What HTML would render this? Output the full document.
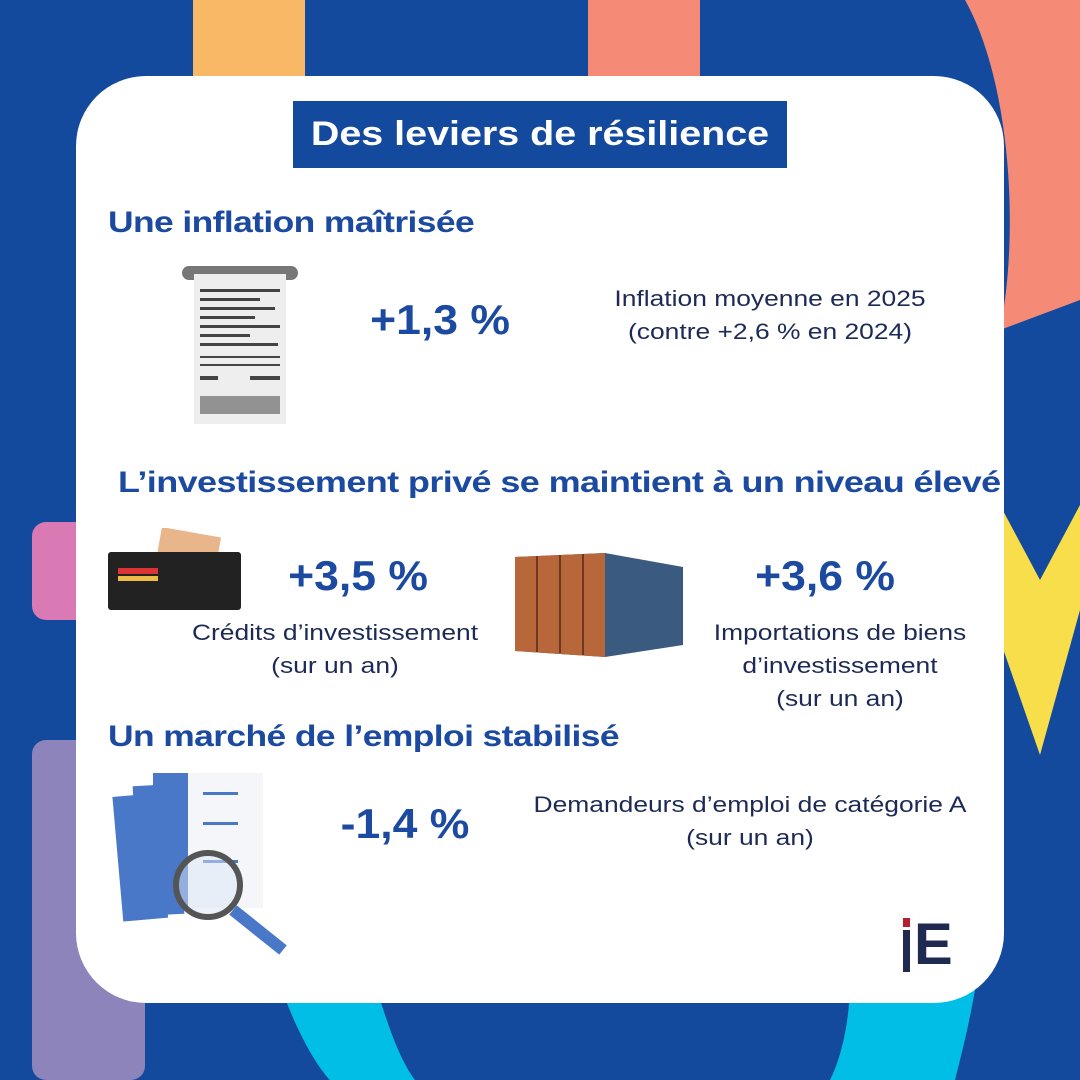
<!DOCTYPE html>
<html><head><meta charset="utf-8"><style>
body{margin:0;width:1080px;height:1080px;overflow:hidden;background:#144A9E;position:relative;font-family:"Liberation Sans",sans-serif}
.a{position:absolute}
.h{color:#1B4AA0;font-weight:bold;font-size:30px;letter-spacing:-0.5px;transform:scaleX(1.18);transform-origin:left center;white-space:nowrap}
.n{color:#1B4AA0;font-weight:bold;font-size:42px;text-align:center;transform:scaleX(1.06)}
.t{color:#1c2a55;font-size:22px;text-align:center;line-height:33px;transform:scaleX(1.2);white-space:nowrap}
</style></head><body>
<svg class="a" style="left:0;top:0" width="1080" height="1080">
<rect x="193" y="0" width="112" height="80" fill="#F9B865"/>
<rect x="588" y="0" width="112" height="80" fill="#F58A77"/>
<path d="M965 0 C1010 80 1020 230 1000 330 L1080 300 L1080 0 Z" fill="#F58A77"/>
<path d="M1000 505 L1040 580 L1080 505 L1080 610 L1040 755 L1000 640 Z" fill="#F9DE4C"/>
<rect x="32" y="522" width="60" height="98" rx="14" fill="#D97AB5"/>
<rect x="32" y="740" width="113" height="340" rx="14" fill="#8C84BB"/>
<path d="M282 990 C300 1040 320 1070 330 1080 L415 1080 C400 1060 390 1030 380 1000 Z" fill="#00BEE6"/>
<path d="M850 990 L975 990 C968 1030 960 1060 955 1080 L830 1080 C840 1060 848 1030 850 990 Z" fill="#00BEE6"/>
</svg>
<div class="a" style="left:76px;top:76px;width:928px;height:927px;background:#fff;border-radius:70px"></div>
<div class="a" style="left:293px;top:101px;width:494px;height:67px;background:#144A9E"></div>
<div class="a" style="left:293px;top:101px;width:494px;height:67px;color:#fff;font-weight:bold;font-size:34px;text-align:center;line-height:67px;transform:scaleX(1.16);white-space:nowrap">Des leviers de résilience</div>
<div class="a h" style="left:108px;top:206px">Une inflation maîtrisée</div>
<div class="a h" style="left:118px;top:466px;transform:scaleX(1.2)">L’investissement privé se maintient à un niveau élevé</div>
<div class="a h" style="left:108px;top:720px">Un marché de l’emploi stabilisé</div>
<!-- receipt -->
<svg class="a" style="left:180px;top:264px" width="120" height="165">
<rect x="2" y="2" width="116" height="14" rx="7" fill="#777"/>
<rect x="14" y="10" width="92" height="150" fill="#eee"/>
<g fill="#444"><rect x="20" y="25" width="80" height="3"/><rect x="20" y="34" width="60" height="3"/><rect x="20" y="43" width="75" height="3"/><rect x="20" y="52" width="55" height="3"/><rect x="20" y="61" width="80" height="3"/><rect x="20" y="70" width="50" height="3"/><rect x="20" y="79" width="78" height="3"/><rect x="20" y="92" width="80" height="2"/><rect x="20" y="100" width="80" height="2"/><rect x="20" y="112" width="18" height="4"/><rect x="70" y="112" width="30" height="4"/>
<rect x="20" y="132" width="80" height="18" fill="#555" opacity=".6"/></g>
</svg>
<div class="a n" style="left:340px;top:296px;width:200px">+1,3 %</div>
<div class="a t" style="left:560px;top:282px;width:420px">Inflation moyenne en 2025<br>(contre +2,6 % en 2024)</div>
<!-- wallet -->
<svg class="a" style="left:108px;top:528px" width="135" height="85">
<rect x="50" y="4" width="60" height="40" fill="#e9b58a" transform="rotate(10 80 24)"/>
<rect x="0" y="24" width="133" height="58" rx="3" fill="#222"/>
<rect x="10" y="40" width="40" height="6" fill="#d33"/><rect x="10" y="48" width="40" height="5" fill="#eb4"/>
</svg>
<div class="a n" style="left:258px;top:552px;width:200px">+3,5 %</div>
<div class="a t" style="left:180px;top:616px;width:310px">Crédits d’investissement<br>(sur un an)</div>
<!-- container -->
<svg class="a" style="left:515px;top:553px" width="168" height="105">
<polygon points="0,4 90,0 168,14 168,92 90,104 0,98" fill="#3b5a80"/>
<polygon points="0,4 90,0 90,104 0,98" fill="#b8673a"/>
<g stroke="#6a3a20" stroke-width="2"><line x1="22" y1="3" x2="22" y2="99"/><line x1="45" y1="2" x2="45" y2="100"/><line x1="68" y1="1" x2="68" y2="102"/></g>
</svg>
<div class="a n" style="left:725px;top:552px;width:200px">+3,6 %</div>
<div class="a t" style="left:680px;top:616px;width:320px">Importations de biens<br>d’investissement<br>(sur un an)</div>
<!-- cv -->
<svg class="a" style="left:108px;top:770px" width="185" height="185">
<rect x="10" y="25" width="45" height="125" fill="#4A78C8" transform="rotate(-5 30 90)"/>
<rect x="28" y="15" width="45" height="130" fill="#4A78C8" transform="rotate(-3 50 80)"/>
<rect x="45" y="3" width="35" height="135" fill="#4A78C8"/>
<rect x="80" y="3" width="75" height="135" fill="#f4f6fa"/>
<g fill="#4A78C8"><rect x="95" y="22" width="35" height="3"/><rect x="95" y="52" width="35" height="3"/><rect x="95" y="90" width="35" height="3"/></g>
<circle cx="100" cy="115" r="32" fill="rgba(220,230,245,.5)" stroke="#555" stroke-width="6"/>
<line x1="125" y1="140" x2="175" y2="180" stroke="#4A78C8" stroke-width="12"/>
</svg>
<div class="a n" style="left:305px;top:800px;width:200px">-1,4 %</div>
<div class="a t" style="left:520px;top:788px;width:460px">Demandeurs d’emploi de catégorie A<br>(sur un an)</div>
<div class="a" style="left:903px;top:918px;width:7px;height:9px;background:#B5202E"></div>
<div class="a" style="left:903px;top:930px;width:7px;height:42px;background:#1F2A50"></div>
<div class="a" style="left:914px;top:918px;font-size:58px;line-height:54px;color:#1F2A50;font-weight:bold">E</div>
</body></html>
